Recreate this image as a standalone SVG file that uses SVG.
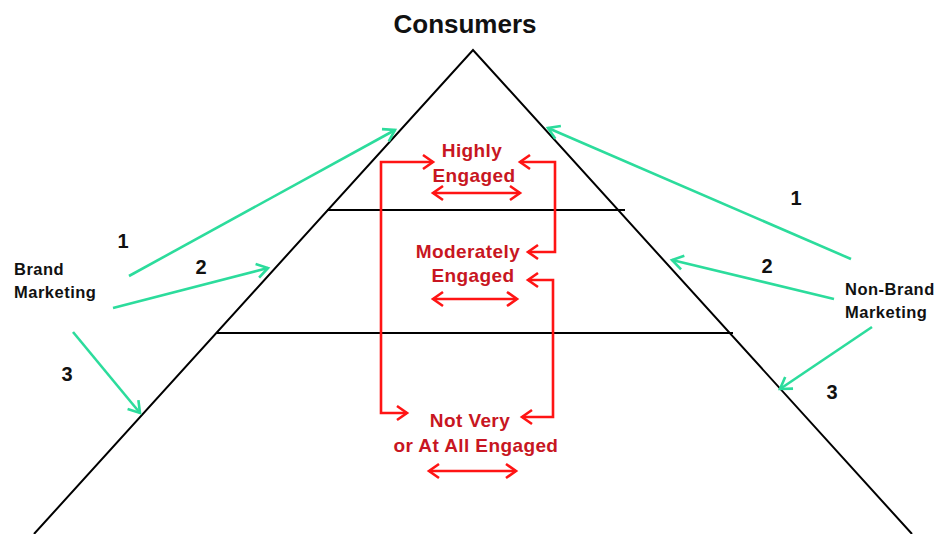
<svg xmlns="http://www.w3.org/2000/svg" width="946" height="534" viewBox="0 0 946 534">
<defs>
<style>
.blk{stroke:#000;stroke-width:2;fill:none}
.red{stroke:#ff1414;stroke-width:2.6;fill:none;stroke-linejoin:miter}
.grn{stroke:#2cdc9c;stroke-width:2.6;fill:none}
.rt{font-family:"Liberation Sans",Arial,sans-serif;font-weight:bold;font-size:19px;letter-spacing:0.4px;fill:#c81622;text-anchor:middle}
.bt{font-family:"Liberation Sans",Arial,sans-serif;font-weight:bold;fill:#111}
.num{font-family:"Liberation Sans",Arial,sans-serif;font-weight:bold;font-size:20px;fill:#111;text-anchor:middle}
</style>
<marker id="ra" markerUnits="userSpaceOnUse" markerWidth="30" markerHeight="30" viewBox="-15 -15 30 30" refX="0" refY="0" orient="auto-start-reverse">
<path d="M-10,-7 L0,0 L-10,7" fill="none" stroke="#ff1414" stroke-width="2.6"/>
</marker>
<marker id="ga" markerUnits="userSpaceOnUse" markerWidth="30" markerHeight="30" viewBox="-15 -15 30 30" refX="0" refY="0" orient="auto">
<path d="M-11,-7 L0,0 L-11,7" fill="none" stroke="#2cdc9c" stroke-width="2.6"/>
</marker>
</defs>
<rect width="946" height="534" fill="#fff"/>
<g id="pyramid">
<path class="blk" d="M34,534 L473,50 L912,534"/>
<line class="blk" x1="327" y1="210" x2="625" y2="210"/>
<line class="blk" x1="217" y1="333" x2="733" y2="333"/>
</g>
<g id="consumers"><text class="bt" x="465" y="33" font-size="26" text-anchor="middle">Consumers</text></g>
<g id="highly">
<text class="rt" x="472" y="157">Highly</text>
<text class="rt" x="474" y="182">Engaged</text>
</g>
<g id="moderately">
<text class="rt" x="468" y="258">Moderately</text>
<text class="rt" x="473" y="282">Engaged</text>
</g>
<g id="notvery">
<text class="rt" x="470" y="427">Not Very</text>
<text class="rt" x="476" y="452">or At All Engaged</text>
</g>
<g id="brand">
<text class="bt" x="14" y="275" font-size="16.5" letter-spacing="0.5">Brand</text>
<text class="bt" x="14" y="298" font-size="16.5" letter-spacing="0.5">Marketing</text>
</g>
<g id="nonbrand">
<text class="bt" x="845" y="295" font-size="16.5" letter-spacing="0.5">Non-Brand</text>
<text class="bt" x="845" y="318" font-size="16.5" letter-spacing="0.5">Marketing</text>
</g>
<g id="numbers">
<text class="num" x="123" y="248">1</text>
<text class="num" x="201" y="274">2</text>
<text class="num" x="67" y="381">3</text>
<text class="num" x="796" y="205">1</text>
<text class="num" x="767" y="273">2</text>
<text class="num" x="832" y="399">3</text>
</g>
<g id="connectors">
<line class="red" x1="433" y1="193" x2="520" y2="193" marker-start="url(#ra)" marker-end="url(#ra)"/>
<line class="red" x1="433" y1="299" x2="517" y2="299" marker-start="url(#ra)" marker-end="url(#ra)"/>
<line class="red" x1="429" y1="471" x2="516" y2="471" marker-start="url(#ra)" marker-end="url(#ra)"/>
<path class="red" d="M433,162 L381,162 L381,413 L407,413" marker-start="url(#ra)" marker-end="url(#ra)"/>
<path class="red" d="M520,162 L555,162 L555,252 L528,252" marker-start="url(#ra)" marker-end="url(#ra)"/>
<path class="red" d="M528,280 L553,280 L553,417 L522,417" marker-start="url(#ra)" marker-end="url(#ra)"/>
<line class="grn" x1="129" y1="276" x2="395" y2="130" marker-end="url(#ga)"/>
<line class="grn" x1="113" y1="308" x2="268" y2="268" marker-end="url(#ga)"/>
<line class="grn" x1="73" y1="332" x2="140" y2="413" marker-end="url(#ga)"/>
<line class="grn" x1="851" y1="259" x2="548" y2="128" marker-end="url(#ga)"/>
<line class="grn" x1="834" y1="299" x2="672" y2="260" marker-end="url(#ga)"/>
<line class="grn" x1="872" y1="327" x2="780" y2="389" marker-end="url(#ga)"/>
</g>
</svg>
